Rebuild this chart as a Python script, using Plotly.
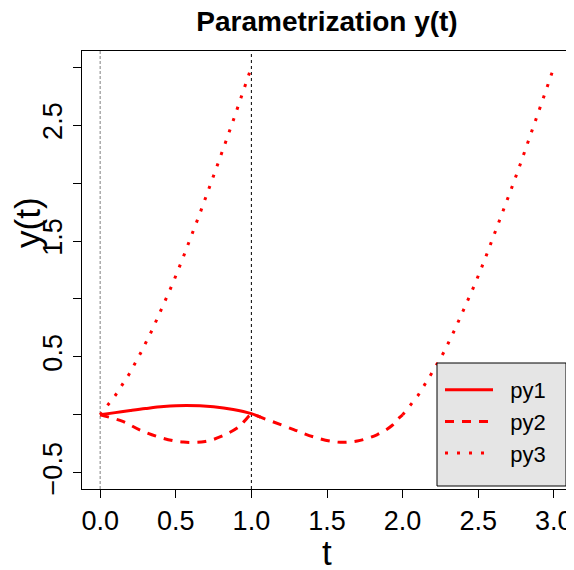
import plotly.graph_objects as go

# ---- data ----
t1 = [0.0, 0.1, 0.2, 0.3, 0.42, 0.57, 0.75, 0.88, 1.0, 1.06]
py1 = [0.0, 0.019, 0.037, 0.054, 0.071, 0.080, 0.069, 0.046, 0.010, -0.020]

t2 = [0.0, 0.15, 0.27, 0.41, 0.55, 0.695, 0.815, 0.92, 0.96, 1.0,
      1.1, 1.28, 1.41, 1.565, 1.70, 1.83, 1.93, 1.97, 2.0]
py2 = [0.0, -0.057, -0.135, -0.200, -0.235, -0.230, -0.178, -0.100, -0.045, 0.0,
       -0.040, -0.127, -0.190, -0.235, -0.226, -0.172, -0.092, -0.034, 0.0]

t3 = [0.0, 0.101, 0.192, 0.271, 0.344, 0.412, 0.478, 0.540, 0.600, 0.657,
      0.714, 0.772, 0.825, 0.880, 0.933, 0.987, 1.0,
      None,
      2.0, 2.103, 2.189, 2.273, 2.344, 2.412, 2.478, 2.540, 2.599, 2.659,
      2.714, 2.771, 2.826, 2.882, 2.934, 2.987, 3.0]
py3 = [0.0, 0.169, 0.352, 0.541, 0.733, 0.930, 1.128, 1.329, 1.529, 1.729,
       1.933, 2.137, 2.337, 2.540, 2.743, 2.947, 3.0,
       None,
       0.0, 0.169, 0.352, 0.541, 0.733, 0.930, 1.128, 1.329, 1.529, 1.729,
       1.933, 2.137, 2.337, 2.540, 2.747, 2.949, 3.0]

series_names = ["py1", "py2", "py3"]
vlines = [0.0, 1.0]
xticks = [0.0, 0.5, 1.0, 1.5, 2.0, 2.5, 3.0]
xticklabels = ["0.0", "0.5", "1.0", "1.5", "2.0", "2.5", "3.0"]
yticks = [-0.5, 0.0, 0.5, 1.0, 1.5, 2.0, 2.5, 3.0]
yticklabels = ["\u22120.5", "", "0.5", "", "1.5", "", "2.5", ""]

FONT = "Liberation Sans, Arial, sans-serif"
RED = "#FF0000"
NB = "\u00a0\u00a0"

# page body has an 8px margin: work in screen pixels, convert to figure pixels
OFF = 8
W, H = 574 - OFF, 570 - OFF
SL, SR, ST, SB = 82, 572, 51, 489          # plot box in screen pixels
L, T = SL - OFF, ST - OFF
R, B = W - (SR - OFF), H - (SB - OFF)
pw, ph = W - L - R, H - T - B
def px(x): return (x - OFF - L) / pw
def py(y): return (SB - y) / ph

fig = go.Figure()
fig.add_trace(go.Scatter(x=t1, y=py1, mode="lines", name=NB + series_names[0],
                         line=dict(color=RED, width=3, shape="spline")))
fig.add_trace(go.Scatter(x=t2, y=py2, mode="lines", name=NB + series_names[1],
                         line=dict(color=RED, width=3, dash="9px,8px", shape="spline")))
fig.add_trace(go.Scatter(x=t3, y=py3, mode="lines", name=NB + series_names[2], connectgaps=False,
                         line=dict(color=RED, width=3, dash="3px,9px")))

fig.add_shape(type="line", x0=vlines[0], x1=vlines[0], y0=0, y1=1, xref="x", yref="paper",
              line=dict(color="#808080", width=1, dash="3px,2px"), layer="below")
fig.add_shape(type="line", x0=vlines[1], x1=vlines[1], y0=0, y1=1, xref="x", yref="paper",
              line=dict(color="#000000", width=1, dash="3px,3px"), layer="below")

# legend box
fig.add_shape(type="rect", xref="paper", yref="paper",
              x0=px(437), x1=px(566), y0=py(486), y1=py(363),
              fillcolor="#E5E5E5", line=dict(color="#000000", width=1), layer="above")

fig.update_layout(
    width=W, height=H,
    margin=dict(l=L, r=R, t=T, b=B),
    paper_bgcolor="white", plot_bgcolor="white",
    font=dict(family=FONT, color="black"),
    showlegend=True,
    legend=dict(x=px(440), y=py(369), xanchor="left", yanchor="top",
                bgcolor="rgba(0,0,0,0)", borderwidth=0,
                font=dict(size=22, family=FONT), itemwidth=48, tracegroupgap=0),
    title=dict(text="<b>Parametrization y(t)</b>", x=px(327), xref="paper",
               y=1 - (21 - OFF) / H, yanchor="middle", xanchor="center",
               font=dict(size=28, family=FONT)),
    xaxis=dict(range=[-0.12, 3.12], tickvals=xticks, ticktext=xticklabels,
               showgrid=False, zeroline=False, showline=True, mirror=True,
               linecolor="black", linewidth=1, ticks="outside", ticklen=8,
               tickcolor="black", tickfont=dict(size=27, family=FONT)),
    yaxis=dict(range=[-0.64, 3.14], tickvals=yticks, ticktext=yticklabels,
               showgrid=False, zeroline=False, showline=True, mirror=True,
               linecolor="black", linewidth=1, ticks="outside", ticklen=8,
               tickcolor="black", tickangle=-90, tickfont=dict(size=27, family=FONT)),
    annotations=[
        dict(text="t", xref="paper", yref="paper", x=px(327), y=py(552),
             xanchor="center", yanchor="middle", showarrow=False,
             font=dict(size=35, family=FONT)),
        dict(text="y(t)", xref="paper", yref="paper", x=px(27), y=py(223),
             xanchor="center", yanchor="middle", showarrow=False, textangle=-90,
             font=dict(size=35, family=FONT)),
    ],
)

fig.write_html("out.html")
